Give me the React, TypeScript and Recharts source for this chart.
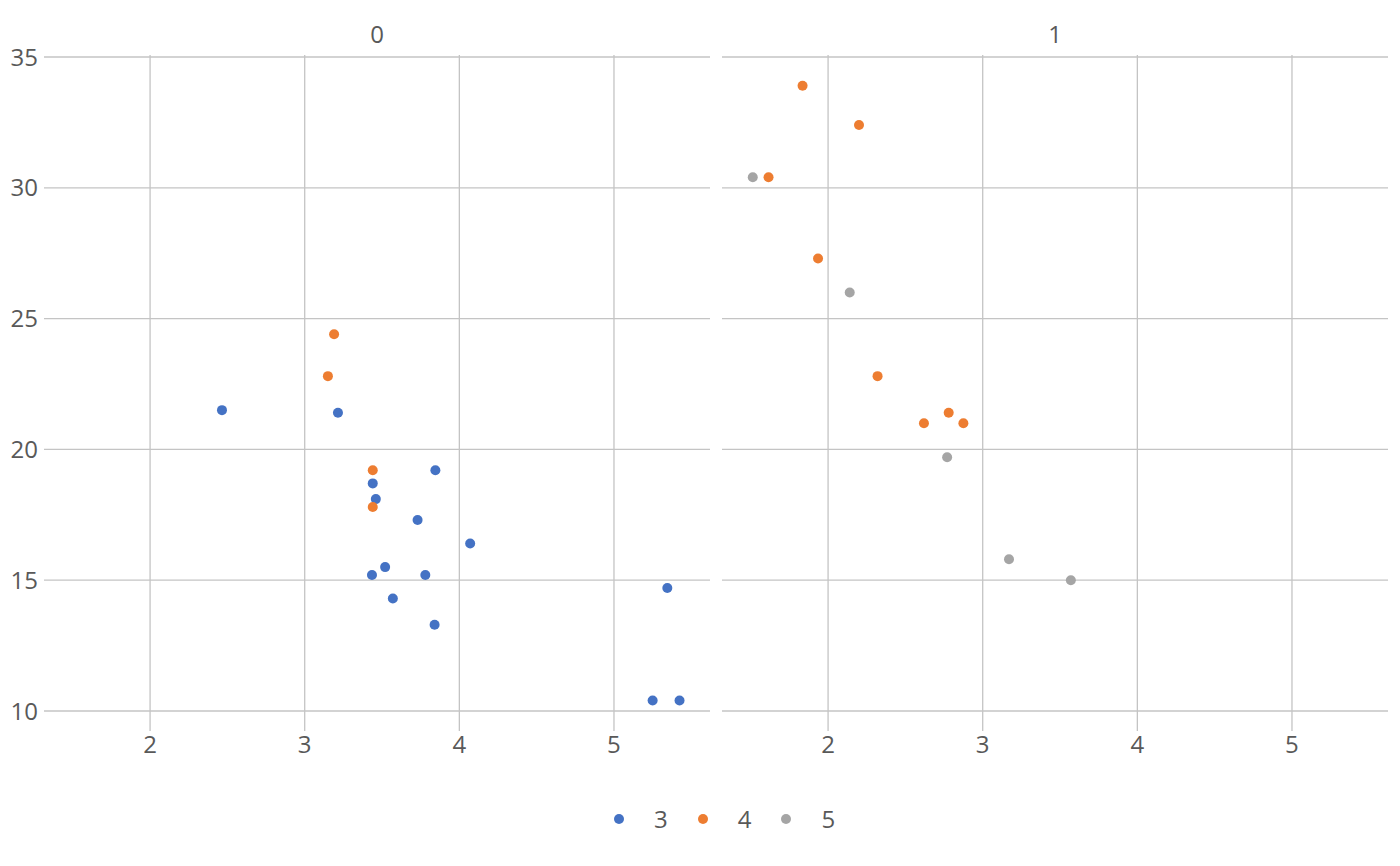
import { ReferenceLine, Scatter, ScatterChart, XAxis, YAxis } from "recharts";

// ── Data (weight vs mpg, split by am, coloured by gear) ───────────────────────
type Pt = { wt: number; mpg: number };

const am0Gear3: Pt[] = [
  { wt: 3.215, mpg: 21.4 }, { wt: 3.44, mpg: 18.7 }, { wt: 3.46, mpg: 18.1 },
  { wt: 3.57, mpg: 14.3 }, { wt: 4.07, mpg: 16.4 }, { wt: 3.73, mpg: 17.3 },
  { wt: 3.78, mpg: 15.2 }, { wt: 5.25, mpg: 10.4 }, { wt: 5.424, mpg: 10.4 },
  { wt: 5.345, mpg: 14.7 }, { wt: 2.465, mpg: 21.5 }, { wt: 3.52, mpg: 15.5 },
  { wt: 3.435, mpg: 15.2 }, { wt: 3.84, mpg: 13.3 }, { wt: 3.845, mpg: 19.2 },
];
const am0Gear4: Pt[] = [
  { wt: 3.19, mpg: 24.4 }, { wt: 3.15, mpg: 22.8 }, { wt: 3.44, mpg: 19.2 },
  { wt: 3.44, mpg: 17.8 },
];
const am1Gear4: Pt[] = [
  { wt: 2.62, mpg: 21.0 }, { wt: 2.875, mpg: 21.0 }, { wt: 2.32, mpg: 22.8 },
  { wt: 2.2, mpg: 32.4 }, { wt: 1.615, mpg: 30.4 }, { wt: 1.835, mpg: 33.9 },
  { wt: 1.935, mpg: 27.3 }, { wt: 2.78, mpg: 21.4 },
];
const am1Gear5: Pt[] = [
  { wt: 2.14, mpg: 26.0 }, { wt: 1.513, mpg: 30.4 }, { wt: 3.17, mpg: 15.8 },
  { wt: 2.77, mpg: 19.7 }, { wt: 3.57, mpg: 15.0 },
];

const gears = ["3", "4", "5"];
const xTicks = [2, 3, 4, 5];
const yTicks = [10, 15, 20, 25, 30, 35];

// ── Theme ─────────────────────────────────────────────────────────────────────
const COLORS: Record<string, string> = { "3": "#4472C4", "4": "#ED7D31", "5": "#A5A5A5" };
const GRID = "#c4c4c4";
const TEXT = "#595959";
const FONT = "'Open Sans', sans-serif";
const X_DOMAIN: [number, number] = [1.314, 5.621];
const Y_DOMAIN: [number, number] = [10, 35.076];
const H = 866;
const FS = 24;
const TICK = { fill: TEXT, fontSize: FS, fontFamily: FONT };

const dot = (color: string) => (p: any) => (
  <circle cx={p.cx} cy={p.cy} r={5} fill={color} />
);

function Panel({
  left,
  width,
  showY,
  series,
}: {
  left: number;
  width: number;
  showY: boolean;
  series: { gear: string; data: Pt[] }[];
}) {
  return (
    <div style={{ position: "absolute", left, top: 0 }}>
      <ScatterChart
        width={width}
        height={H}
        margin={{ top: 55, right: 0, left: 0, bottom: 95 }}
      >
        <XAxis
          type="number"
          dataKey="wt"
          domain={X_DOMAIN}
          ticks={xTicks}
          axisLine={false}
          tickLine={{ stroke: GRID, strokeWidth: 1.3 }}
          tickSize={20}
          tickMargin={5}
          height={60}
          tick={TICK}
        />
        <YAxis
          type="number"
          dataKey="mpg"
          domain={Y_DOMAIN}
          ticks={yTicks}
          axisLine={false}
          tickLine={false}
          tickSize={6}
          tickMargin={0}
          width={showY ? 44 : 0}
          hide={!showY}
          tick={TICK}
        />
        {/* grid drawn at the tick values */}
        {xTicks.map((t) => (
          <ReferenceLine key={`x${t}`} x={t} stroke={GRID} strokeWidth={1.3} />
        ))}
        {yTicks.map((t) => (
          <ReferenceLine key={`y${t}`} y={t} stroke={GRID} strokeWidth={1.3} />
        ))}
        {series.map((s) => (
          <Scatter
            key={s.gear}
            data={s.data}
            fill={COLORS[s.gear]}
            shape={dot(COLORS[s.gear])}
            isAnimationActive={false}
          />
        ))}
      </ScatterChart>
    </div>
  );
}

export default function App() {
  const label = (text: string, cx: number) => (
    <div
      style={{
        position: "absolute",
        left: cx - 50,
        top: 18,
        width: 100,
        textAlign: "center",
        fontSize: FS,
        lineHeight: "32px",
        color: TEXT,
        fontFamily: FONT,
      }}
    >
      {text}
    </div>
  );

  return (
    <div
      style={{
        position: "absolute",
        left: 0,
        top: 0,
        width: 1400,
        height: H,
        background: "#fff",
        fontFamily: FONT,
      }}
    >
      <Panel
        left={0}
        width={710}
        showY
        series={[
          { gear: "3", data: am0Gear3 },
          { gear: "4", data: am0Gear4 },
        ]}
      />
      <Panel
        left={722}
        width={666}
        showY={false}
        series={[
          { gear: "4", data: am1Gear4 },
          { gear: "5", data: am1Gear5 },
        ]}
      />
      {label("0", 377)}
      {label("1", 1055)}

      {/* legend */}
      <div
        style={{
          position: "absolute",
          top: 803,
          left: 614,
          display: "flex",
          color: TEXT,
          fontSize: FS,
          lineHeight: "32px",
        }}
      >
        {gears.map((g) => (
          <div key={g} style={{ display: "flex", alignItems: "center", marginRight: 30 }}>
            <svg width={10} height={10} style={{ marginRight: 30 }}>
              <circle cx={5} cy={5} r={5} fill={COLORS[g]} />
            </svg>
            <span>{g}</span>
          </div>
        ))}
      </div>
    </div>
  );
}
